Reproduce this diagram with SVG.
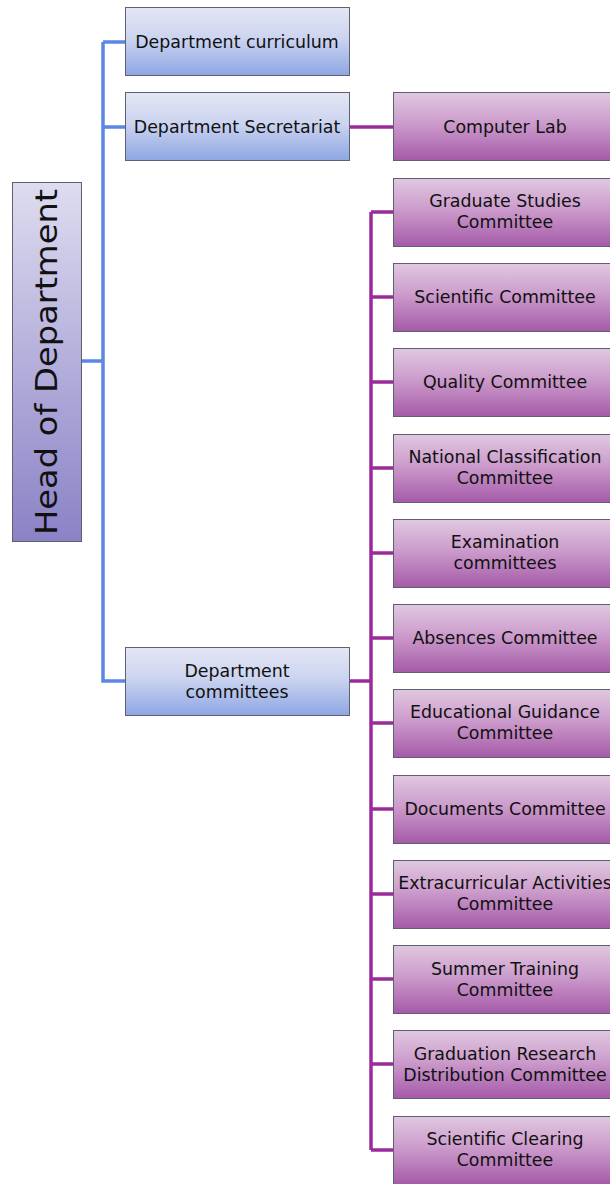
<svg xmlns="http://www.w3.org/2000/svg" width="610" height="1184" viewBox="0 0 610 1184">
<defs>
<linearGradient id="gb" x1="0" y1="0" x2="0" y2="1"><stop offset="0" stop-color="#e4e6f4"/><stop offset="0.45" stop-color="#ccd4f0"/><stop offset="1" stop-color="#8ea6e2"/></linearGradient>
<linearGradient id="gp" x1="0" y1="0" x2="0" y2="1"><stop offset="0" stop-color="#e0c8e0"/><stop offset="0.45" stop-color="#cc9ccc"/><stop offset="1" stop-color="#a55aa8"/></linearGradient>
<linearGradient id="gh" x1="0" y1="0" x2="0" y2="1"><stop offset="0" stop-color="#dedcf0"/><stop offset="1" stop-color="#8a82c6"/></linearGradient>
</defs>
<style>
.b{fill:url(#gb);stroke:#5c6070;stroke-width:1}
.p{fill:url(#gp);stroke:#5c6070;stroke-width:1}
.h{fill:url(#gh);stroke:#5c6070;stroke-width:1}
text{font-family:"DejaVu Sans","Liberation Sans",sans-serif;font-size:17.4px;fill:#111;text-anchor:middle}
.bl{fill:none;stroke:#5b87e2;stroke-width:3.5}
.pl{fill:none;stroke:#9a2b9b;stroke-width:3.5}
</style>
<g id="connectors">
<path class="bl" d="M81,361 H103 M103,42 V681 H125 M103,42 H125 M103,127 H125"/>
<path class="pl" d="M349,127 H393 M349,681 H371 M371,212 V1150"/>
<path class="pl" d="M371,212 H393 M371,297 H393 M371,382 H393 M371,468 H393 M371,553 H393 M371,638 H393 M371,723 H393 M371,809 H393 M371,894 H393 M371,979 H393 M371,1064 H393 M371,1150 H393"/>
</g>
<g id="head"><rect class="h" x="12.5" y="182.5" width="69" height="359"/><text transform="translate(57,362) rotate(-90)" style="font-size:30px" textLength="346" lengthAdjust="spacingAndGlyphs">Head of Department</text></g>
<g id="n1"><rect class="b" x="125.5" y="7.5" width="224" height="68"/><text x="237" y="48">Department curriculum</text></g>
<g id="n2"><rect class="b" x="125.5" y="92.5" width="224" height="68"/><text x="237" y="133">Department Secretariat</text></g>
<g id="n3"><rect class="b" x="125.5" y="647.5" width="224" height="68"/><text x="237" y="677">Department</text><text x="237" y="698">committees</text></g>
<g id="p0"><rect class="p" x="393.5" y="92.5" width="220" height="68"/><text x="505" y="133">Computer Lab</text></g>
<g id="p1"><rect class="p" x="393.5" y="178.5" width="220" height="68"/><text x="505" y="207">Graduate Studies</text><text x="505" y="228">Committee</text></g>
<g id="p2"><rect class="p" x="393.5" y="263.5" width="220" height="68"/><text x="505" y="303">Scientific Committee</text></g>
<g id="p3"><rect class="p" x="393.5" y="348.5" width="220" height="68"/><text x="505" y="388">Quality Committee</text></g>
<g id="p4"><rect class="p" x="393.5" y="434.5" width="220" height="68"/><text x="505" y="463">National Classification</text><text x="505" y="484">Committee</text></g>
<g id="p5"><rect class="p" x="393.5" y="519.5" width="220" height="68"/><text x="505" y="548">Examination</text><text x="505" y="569">committees</text></g>
<g id="p6"><rect class="p" x="393.5" y="604.5" width="220" height="68"/><text x="505" y="644">Absences Committee</text></g>
<g id="p7"><rect class="p" x="393.5" y="689.5" width="220" height="68"/><text x="505" y="718">Educational Guidance</text><text x="505" y="739">Committee</text></g>
<g id="p8"><rect class="p" x="393.5" y="775.5" width="220" height="68"/><text x="505" y="815">Documents Committee</text></g>
<g id="p9"><rect class="p" x="393.5" y="860.5" width="220" height="68"/><text x="505" y="889">Extracurricular Activities</text><text x="505" y="910">Committee</text></g>
<g id="p10"><rect class="p" x="393.5" y="945.5" width="220" height="68"/><text x="505" y="975">Summer Training</text><text x="505" y="996">Committee</text></g>
<g id="p11"><rect class="p" x="393.5" y="1030.5" width="220" height="68"/><text x="505" y="1060">Graduation Research</text><text x="505" y="1081">Distribution Committee</text></g>
<g id="p12"><rect class="p" x="393.5" y="1116.5" width="220" height="68"/><text x="505" y="1145">Scientific Clearing</text><text x="505" y="1166">Committee</text></g>
</svg>
